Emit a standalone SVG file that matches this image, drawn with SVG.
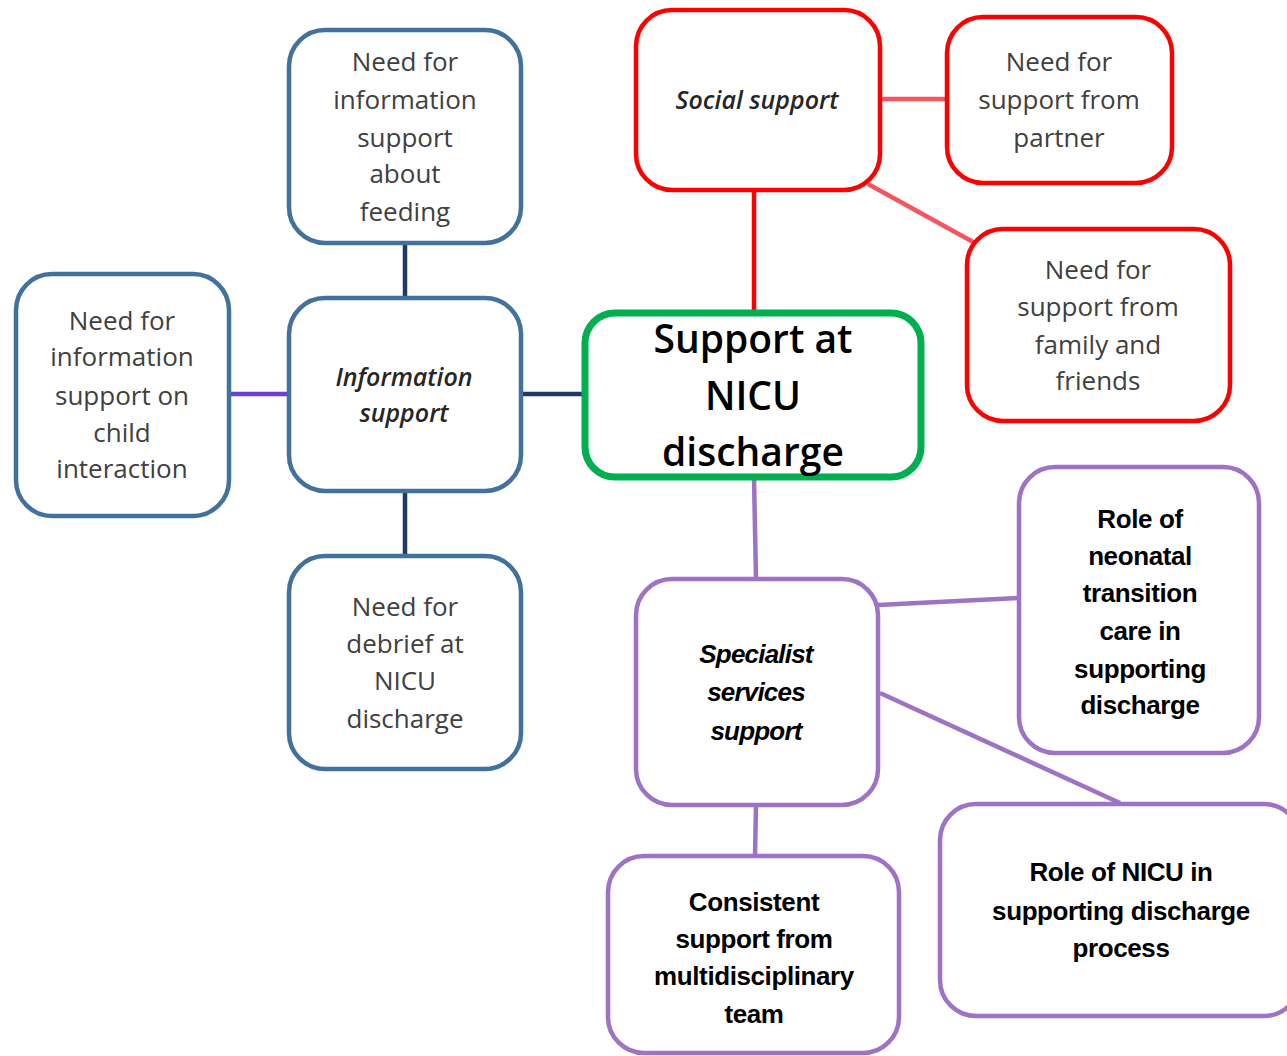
<svg xmlns="http://www.w3.org/2000/svg" width="1287" height="1056" viewBox="0 0 1287 1056">
<style>
.box{fill:#fff;stroke-width:4.5}
.blue{stroke:#41719C}
.red{stroke:#FF0000}
.purple{stroke:#9E72C4}
.green{stroke:#00B050;stroke-width:7}
.t{font-family:"Open Sans","Noto Sans",sans-serif;font-size:26px;fill:#404040;text-anchor:middle}
.ti{font-family:"Open Sans","Noto Sans",sans-serif;font-size:25px;font-style:italic;font-weight:600;fill:#262626;text-anchor:middle}
.tb{font-family:"Liberation Sans Narrow","Liberation Sans",sans-serif;font-size:26px;font-weight:bold;fill:#000;text-anchor:middle;letter-spacing:-0.4px}
.tbi{font-family:"Liberation Sans Narrow","Liberation Sans",sans-serif;font-size:26px;font-weight:bold;font-style:italic;fill:#000;text-anchor:middle;letter-spacing:-0.8px}
.tc{font-family:"Open Sans","Noto Sans",sans-serif;font-size:39px;font-weight:600;fill:#000;text-anchor:middle}
.c{fill:none;stroke-width:4.5}
</style>
<rect width="1287" height="1056" fill="#fff"/>
<g id="connectors">
<line class="c" x1="405" y1="243" x2="405" y2="298" stroke="#1F3864"/>
<line class="c" x1="405" y1="491" x2="405" y2="556" stroke="#1F3864"/>
<line class="c" x1="229" y1="394" x2="289" y2="394" stroke="#6A3FD6"/>
<line class="c" x1="521" y1="394" x2="585" y2="394" stroke="#1F3864"/>
<line class="c" x1="754" y1="190" x2="754" y2="313" stroke="#FF0000"/>
<line class="c" x1="880" y1="99" x2="947" y2="99" stroke="#F4555F"/>
<line class="c" x1="868" y1="184" x2="975" y2="243" stroke="#F4555F"/>
<line class="c" x1="754" y1="477" x2="756" y2="579" stroke="#9E72C4"/>
<line class="c" x1="878" y1="605" x2="1019" y2="598" stroke="#9E72C4"/>
<line class="c" x1="880" y1="693" x2="1120" y2="803" stroke="#9E72C4"/>
<line class="c" x1="756" y1="805" x2="755" y2="856" stroke="#9E72C4"/>
</g>
<g id="n-feeding">
<rect class="box blue" x="289" y="30" width="232" height="213" rx="36"/>
<text class="t" x="405" y="71">Need for</text>
<text class="t" x="405" y="109">information</text>
<text class="t" x="405" y="147">support</text>
<text class="t" x="405" y="183">about</text>
<text class="t" x="405" y="221">feeding</text>
</g>
<g id="n-info">
<rect class="box blue" x="289" y="298" width="232" height="193" rx="36"/>
<text class="ti" x="404" y="386">Information</text>
<text class="ti" x="404" y="422">support</text>
</g>
<g id="n-child">
<rect class="box blue" x="16" y="274" width="213" height="242" rx="36"/>
<text class="t" x="122" y="330">Need for</text>
<text class="t" x="122" y="366">information</text>
<text class="t" x="122" y="405">support on</text>
<text class="t" x="122" y="442">child</text>
<text class="t" x="122" y="478">interaction</text>
</g>
<g id="n-debrief">
<rect class="box blue" x="289" y="556" width="232" height="213" rx="36"/>
<text class="t" x="405" y="616">Need for</text>
<text class="t" x="405" y="653">debrief at</text>
<text class="t" x="405" y="690">NICU</text>
<text class="t" x="405" y="728">discharge</text>
</g>
<g id="n-social">
<rect class="box red" x="636" y="10" width="244" height="180" rx="36"/>
<text class="ti" x="757" y="109">Social support</text>
</g>
<g id="n-partner">
<rect class="box red" x="947" y="17" width="225" height="166" rx="36"/>
<text class="t" x="1059" y="71">Need for</text>
<text class="t" x="1059" y="109">support from</text>
<text class="t" x="1059" y="147">partner</text>
</g>
<g id="n-family">
<rect class="box red" x="967" y="229" width="263" height="192" rx="36"/>
<text class="t" x="1098" y="279">Need for</text>
<text class="t" x="1098" y="316">support from</text>
<text class="t" x="1098" y="354">family and</text>
<text class="t" x="1098" y="390">friends</text>
</g>
<g id="n-central">
<rect class="box green" x="585" y="313" width="336" height="164" rx="30"/>
<text class="tc" x="753" y="353">Support at</text>
<text class="tc" x="753" y="410">NICU</text>
<text class="tc" x="753" y="466">discharge</text>
</g>
<g id="n-specialist">
<rect class="box purple" x="636" y="579" width="242" height="226" rx="36"/>
<text class="tbi" x="756" y="663">Specialist</text>
<text class="tbi" x="756" y="701">services</text>
<text class="tbi" x="756" y="740">support</text>
</g>
<g id="n-transition">
<rect class="box purple" x="1019" y="467" width="240" height="286" rx="36"/>
<text class="tb" x="1140" y="528">Role of</text>
<text class="tb" x="1140" y="565">neonatal</text>
<text class="tb" x="1140" y="602">transition</text>
<text class="tb" x="1140" y="640">care in</text>
<text class="tb" x="1140" y="678">supporting</text>
<text class="tb" x="1140" y="714">discharge</text>
</g>
<g id="n-nicu">
<rect class="box purple" x="940" y="804" width="360" height="212" rx="36"/>
<text class="tb" x="1121" y="881">Role of NICU in</text>
<text class="tb" x="1121" y="920">supporting discharge</text>
<text class="tb" x="1121" y="957">process</text>
</g>
<g id="n-consistent">
<rect class="box purple" x="608" y="856" width="291" height="197" rx="36"/>
<text class="tb" x="754" y="911">Consistent</text>
<text class="tb" x="754" y="948">support from</text>
<text class="tb" x="754" y="985">multidisciplinary</text>
<text class="tb" x="754" y="1023">team</text>
</g>
</svg>
